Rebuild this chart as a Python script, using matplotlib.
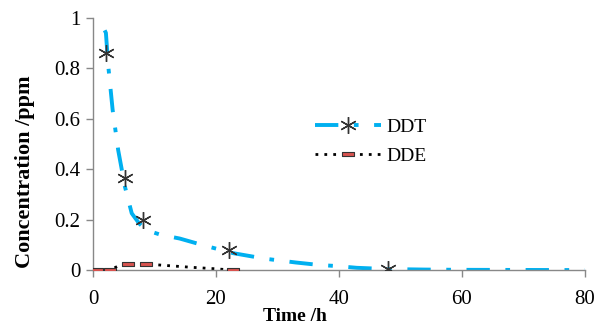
import matplotlib
matplotlib.use('Agg')
import matplotlib.pyplot as plt
import numpy as np

plt.rcParams.update({'font.family': 'Liberation Serif', 'font.size': 12})

# DDT measured points (time h, ppm)
ddt_t = [2.1, 5.2, 8.2, 22.2, 48.0]
ddt_c = [0.86, 0.363, 0.198, 0.079, 0.005]

# DDT fitted curve
fit_t = [1.9, 2.1, 2.5, 3.2, 4.1, 5.2, 6.3, 7.5, 8.7, 11.0, 14.1, 18.0, 22.8,
         28.0, 33.0, 36.9, 39.6, 42.9, 48.0, 54.0, 60.0, 70.0, 80.0]
fit_c = [0.95, 0.94, 0.805, 0.634, 0.475, 0.33, 0.225, 0.185, 0.158, 0.14, 0.125,
         0.098, 0.067, 0.045, 0.03, 0.02, 0.016, 0.009, 0.004, 0.002, 0.001, 0.0005, 0.0]

# DDE points
dde_t = [0.7, 2.8, 5.7, 8.6, 22.7]
dde_c = [0.0, 0.0, 0.024, 0.024, 0.0]

# DDE dotted line
dde_lt = [0.7, 2.8, 4.0, 5.7, 8.6, 12.0, 16.0, 20.0, 22.7]
dde_lc = [0.0, 0.0, 0.015, 0.024, 0.024, 0.018, 0.011, 0.005, 0.0]

fig = plt.figure(figsize=(6.05, 3.25), dpi=100)
ax = fig.add_axes([0.1537, 0.169, 0.813, 0.7765])

rect = [(-1, -0.28), (1, -0.28), (1, 0.28), (-1, 0.28), (-1, -0.28)]
star = (6, 2, 0)

ax.plot(fit_t, fit_c, color='#00B0F0', linewidth=2.8, dashes=(6, 4, 1.2, 4), zorder=2)
ax.plot(ddt_t, ddt_c, linestyle='none', marker=star, markersize=12,
        markeredgecolor='#333333', markeredgewidth=1.0, zorder=3)
ax.plot(dde_lt, dde_lc, color='black', linewidth=2.0, linestyle=(0, (1, 2.2)), zorder=2)
ax.plot(dde_t, dde_c, linestyle='none', marker=rect, markersize=8,
        markerfacecolor='#D9534F', markeredgecolor='#333333', markeredgewidth=0.8, zorder=3)

# legend proxies
h1, = ax.plot([], [], color='#00B0F0', linewidth=2.8, dashes=(6, 4, 1.2, 4),
              marker=star, markersize=12, markeredgecolor='#333333', markeredgewidth=1.0)
h2, = ax.plot([], [], color='black', linewidth=2.0, linestyle=(0, (1, 2.2)),
              marker=rect, markersize=8, markerfacecolor='#D9534F',
              markeredgecolor='#333333', markeredgewidth=0.8)
ax.legend([h1, h2], ['DDT', 'DDE'], loc='center left', bbox_to_anchor=(0.415, 0.51),
          frameon=False, handlelength=3.4, handletextpad=0.3, fontsize=14, labelspacing=0.6)

ax.set_xlim(0, 80)
ax.set_ylim(0, 1)
ax.set_xticks([0, 20, 40, 60, 80])
ax.set_yticks([0, 0.2, 0.4, 0.6, 0.8, 1.0])
ax.set_yticklabels(['0', '0.2', '0.4', '0.6', '0.8', '1'])
for s in ['top', 'right']:
    ax.spines[s].set_visible(False)
for s in ['left', 'bottom']:
    ax.spines[s].set_color('#888888')
    ax.spines[s].set_linewidth(1.0)
ax.tick_params(direction='out', color='#888888', length=5, width=1.0, labelsize=15)
ax.tick_params(axis='x', pad=9)
ax.tick_params(axis='y', pad=4)

ax.set_xlabel('Time /h', fontweight='bold', fontsize=14)
ax.xaxis.set_label_coords(0.41, -0.15)
ax.set_ylabel('Concentration /ppm', fontweight='bold', fontsize=16)
ax.yaxis.set_label_coords(-0.118, 0.39)

fig.savefig('out.png', dpi=100)
